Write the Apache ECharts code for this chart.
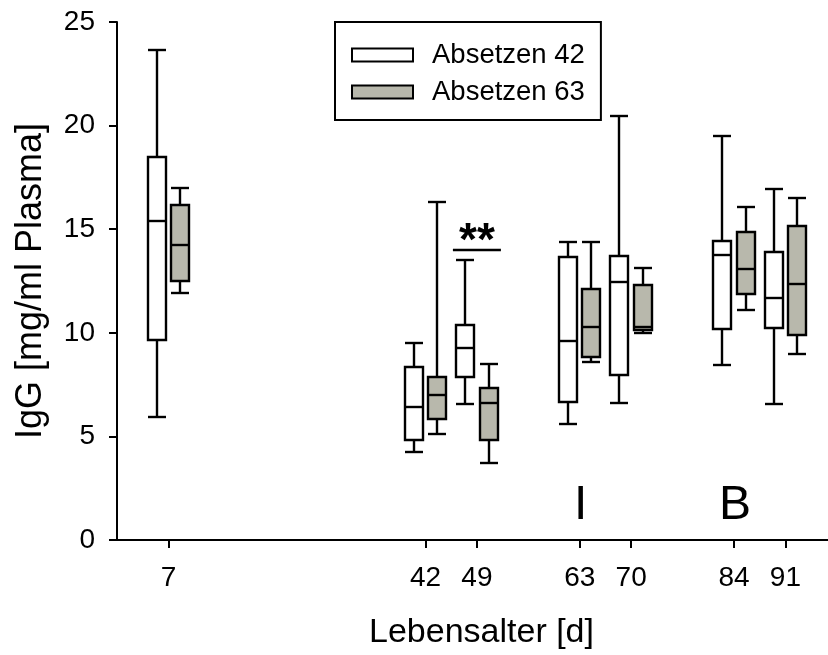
<!DOCTYPE html>
<html>
<head>
<meta charset="utf-8">
<script src="https://cdn.jsdelivr.net/npm/echarts@6/dist/echarts.min.js"></script>
<style>
  html, body { margin: 0; padding: 0; background: #fff; }
  #chart { width: 828px; height: 655px; }
</style>
</head>
<body>
<div id="chart"></div>
<script>
// Lebensalter in Tagen
const days = [7, 42, 49, 63, 70, 84, 91];
// je Tag: [min, Q1, Median, Q3, max]
const absetzen42 = [
  [5.95, 9.64, 15.4, 18.48, 23.66],
  [4.25, 4.83, 6.4, 8.33, 9.5],
  [6.54, 7.86, 9.27, 10.38, 13.51],
  [5.6, 6.64, 9.62, 13.68, 14.36],
  [6.62, 7.97, 12.43, 13.72, 20.45],
  [8.45, 10.19, 13.76, 14.44, 19.49],
  [6.58, 10.23, 11.69, 13.89, 16.94]
];
const absetzen63 = [
  [11.93, 12.48, 14.24, 16.17, 16.98],
  [5.12, 5.84, 6.98, 7.88, 16.31],
  [3.72, 4.83, 6.59, 7.35, 8.5],
  [8.58, 8.84, 10.3, 12.11, 14.4],
  [9.98, 10.15, 10.27, 12.32, 13.12],
  [11.12, 11.89, 13.09, 14.85, 16.09],
  [8.97, 9.91, 12.34, 15.17, 16.52]
];
// Signifikanz (**) und Buchstaben unter den Gruppen
const sigDays = [49];
const sigLevel = [14];
const sigText = ["**"];
const letterDays = [63, 84];
const letterText = ["I", "B"];
const letterLevel = [1.65, 1.65];

const font = "'Liberation Sans', Arial, sans-serif";

let myChart = echarts.init(document.getElementById("chart"));

//box zeichnen, offset = verschiebung in px
function boxRenderer(offset, fill) {
  return function (params, api) {
    let x = api.value(0);
    let r = Math.round;
    let pMin = api.coord([x, api.value(1)]);
    let pQ1 = api.coord([x, api.value(2)]);
    let pMed = api.coord([x, api.value(3)]);
    let pQ3 = api.coord([x, api.value(4)]);
    let pMax = api.coord([x, api.value(5)]);
    let cx = r(pMin[0] + offset);
    let hw = 9;
    let yMin = r(pMin[1]), yQ1 = r(pQ1[1]), yMed = r(pMed[1]), yQ3 = r(pQ3[1]), yMax = r(pMax[1]);
    let line = { stroke: "#000", lineWidth: 2.4 };
    return {
      type: "group",
      children: [
        { type: "line", shape: { x1: cx, y1: yMax, x2: cx, y2: yQ3 }, style: line },
        { type: "line", shape: { x1: cx, y1: yQ1, x2: cx, y2: yMin }, style: line },
        { type: "line", shape: { x1: cx - hw, y1: yMax, x2: cx + hw, y2: yMax }, style: line },
        { type: "line", shape: { x1: cx - hw, y1: yMin, x2: cx + hw, y2: yMin }, style: line },
        {
          type: "rect",
          shape: { x: cx - hw, y: yQ3, width: 2 * hw, height: yQ1 - yQ3 },
          style: { fill: fill, stroke: "#000", lineWidth: 2.4 },
        },
        { type: "line", shape: { x1: cx - hw, y1: yMed, x2: cx + hw, y2: yMed }, style: line },
      ],
    };
  };
}

let option = {
  animation: false,
  grid: {
    left: 117,
    right: 0,
    top: 22,
    bottom: 113.5,
  },
  legend: {
    left: 335,
    top: 22,
    orient: "vertical",
    selectedMode: false,
    itemWidth: 61,
    itemHeight: 13,
    itemGap: 9,
    borderColor: "#000",
    borderWidth: 2,
    padding: [19, 16, 14, 16],
    textStyle: { fontSize: 27.5, color: "#000", fontFamily: font, padding: [0, 0, 0, 14] },
    data: [
      { name: "Absetzen 42", icon: "rect", itemStyle: { color: "#fff", borderColor: "#000", borderWidth: 2 } },
      { name: "Absetzen 63", icon: "rect", itemStyle: { color: "#b8b8ac", borderColor: "#000", borderWidth: 2 } },
    ],
  },
  xAxis: {
    type: "value",
    min: 0,
    max: 96.8,
    name: "Lebensalter [d]",
    nameLocation: "middle",
    nameGap: 76,
    nameTextStyle: { fontSize: 34, color: "#000", fontFamily: font, padding: [0, 0, 0, 18] },
    splitLine: { show: false },
    axisLine: { lineStyle: { color: "#000", width: 2 } },
    axisTick: { customValues: days, length: 8, lineStyle: { color: "#000", width: 2 } },
    axisLabel: { customValues: days, fontSize: 28, color: "#000", fontFamily: font, margin: 24 },
  },
  yAxis: {
    type: "value",
    min: 0,
    max: 25,
    interval: 5,
    name: "IgG [mg/ml Plasma]",
    nameLocation: "middle",
    nameGap: 68,
    nameTextStyle: { fontSize: 36, color: "#000", fontFamily: font },
    splitLine: { show: false },
    axisLine: { show: true, lineStyle: { color: "#000", width: 2 } },
    axisTick: { show: true, length: 8, lineStyle: { color: "#000", width: 2 } },
    axisLabel: { fontSize: 28, color: "#000", fontFamily: font, margin: 22 },
  },
  series: [
    {
      name: "Absetzen 42",
      type: "custom",
      itemStyle: { color: "#fff", borderColor: "#000", borderWidth: 2 },
      encode: { x: 0, y: [1, 2, 3, 4, 5] },
      renderItem: boxRenderer(-11.7, "#fff"),
      data: days.map((d, i) => [d].concat(absetzen42[i])),
    },
    {
      name: "Absetzen 63",
      type: "custom",
      itemStyle: { color: "#b8b8ac", borderColor: "#000", borderWidth: 2 },
      encode: { x: 0, y: [1, 2, 3, 4, 5] },
      renderItem: boxRenderer(11.7, "#b8b8ac"),
      data: days.map((d, i) => [d].concat(absetzen63[i])),
    },
    {
      //signifikanz-strich mit sternen
      type: "custom",
      silent: true,
      encode: { x: 0, y: 1 },
      renderItem: function (params, api) {
        let p = api.coord([api.value(0), api.value(1)]);
        let y = Math.round(p[1]);
        return {
          type: "group",
          children: [
            { type: "line", shape: { x1: p[0] - 24, y1: y, x2: p[0] + 24, y2: y }, style: { stroke: "#000", lineWidth: 2.4 } },
            {
              type: "text",
              x: p[0],
              y: y - 8,
              style: {
                text: sigText[params.dataIndex],
                fontSize: 46,
                fontWeight: "bold",
                fontFamily: font,
                fill: "#000",
                align: "center",
                verticalAlign: "middle",
              },
            },
          ],
        };
      },
      data: sigDays.map((d, i) => [d, sigLevel[i]]),
    },
    {
      //buchstaben I und B
      type: "custom",
      silent: true,
      encode: { x: 0, y: 1 },
      renderItem: function (params, api) {
        let p = api.coord([api.value(0), api.value(1)]);
        return {
          type: "text",
          x: p[0] + 1,
          y: p[1],
          style: {
            text: letterText[params.dataIndex],
            fontSize: 48,
            fontFamily: font,
            fill: "#000",
            align: "center",
            verticalAlign: "middle",
          },
        };
      },
      data: letterDays.map((d, i) => [d, letterLevel[i]]),
    },
  ],
};
myChart.setOption(option);
</script>
</body>
</html>
